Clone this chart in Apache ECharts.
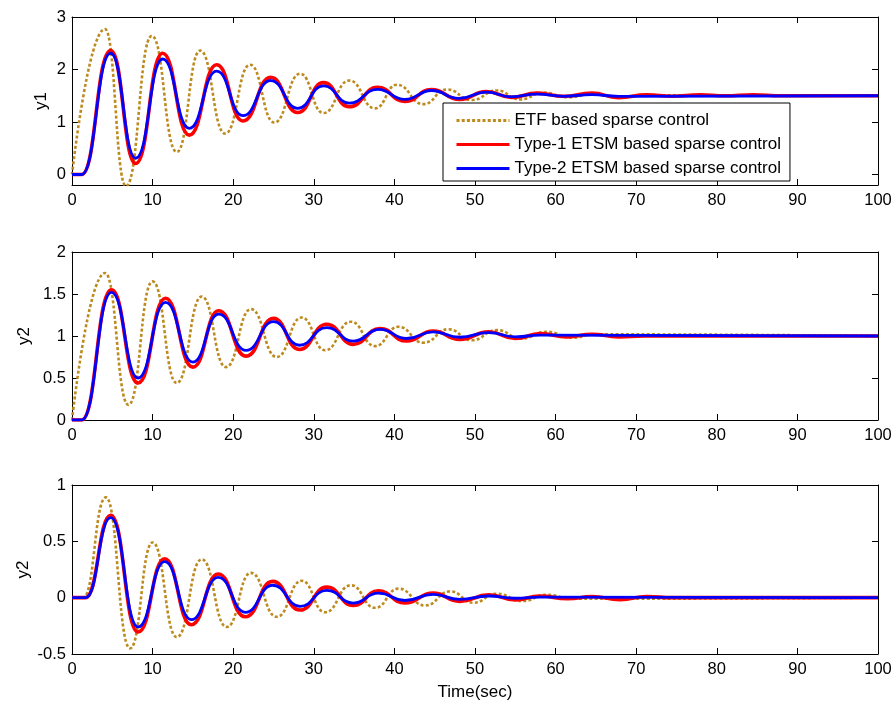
<!DOCTYPE html>
<html>
<head>
<meta charset="utf-8">
<script src="https://cdn.jsdelivr.net/npm/echarts@6/dist/echarts.min.js"></script>
<style>
  html, body { margin: 0; padding: 0; background: #fff; }
  #chart { width: 896px; height: 704px; }
</style>
</head>
<body>
<div id="chart"></div>
<script>
// ---------------- data ----------------
const seriesNames = ['ETF based sparse control', 'Type-1 ETSM based sparse control', 'Type-2 ETSM based sparse control'];
const yAxisNames = ['y1', 'y2', 'y2'];
const xTicks = [0, 10, 20, 30, 40, 50, 60, 70, 80, 90, 100];
const y1Ticks = [0, 1, 2, 3];
const y2Ticks = [0, 0.5, 1, 1.5, 2];
const y3Ticks = [-0.5, 0, 0.5, 1];

// subplot 1 (y1)
const p1EtfT = [0, 4.1, 6.7, 9.9, 13.0, 15.9, 19.0, 22.1, 25.1, 28.3, 31.2, 34.4, 37.6, 40.3, 43.6, 46.5, 49.6, 52.7, 55.6, 58.5, 61.5, 64.6, 67.7, 71.0, 100];
const p1EtfV = [0, 2.77, -0.22, 2.64, 0.43, 2.36, 0.78, 2.09, 0.99, 1.92, 1.17, 1.79, 1.26, 1.71, 1.34, 1.62, 1.42, 1.60, 1.43, 1.56, 1.47, 1.53, 1.48, 1.51, 1.5];
const p1T1T = [0, 1.2, 4.8, 7.9, 11.25, 14.55, 17.95, 21.2, 24.65, 28.0, 31.2, 34.4, 37.9, 41.3, 44.6, 48.1, 51.4, 54.5, 57.7, 61.0, 64.5, 67.8, 71.3, 74.5, 77.9, 81.0, 84.5, 88.0, 100];
const p1T1V = [0, 0, 2.36, 0.21, 2.31, 0.75, 2.09, 1.02, 1.85, 1.18, 1.75, 1.29, 1.66, 1.39, 1.62, 1.43, 1.58, 1.47, 1.55, 1.49, 1.55, 1.465, 1.52, 1.49, 1.52, 1.5, 1.52, 1.5, 1.5];
const p1T2T = [0, 1.2, 4.8, 7.9, 11.25, 14.55, 17.95, 21.2, 24.65, 28.0, 31.2, 34.4, 37.9, 41.3, 44.6, 48.0, 51.4, 54.5, 57.7, 61.0, 64.5, 67.8, 100];
const p1T2V = [0, 0, 2.31, 0.31, 2.20, 0.88, 1.97, 1.12, 1.79, 1.26, 1.69, 1.36, 1.62, 1.43, 1.60, 1.45, 1.57, 1.48, 1.53, 1.49, 1.52, 1.49, 1.5];

// subplot 2 (y2)
const p2EtfT = [0, 4.1, 7.0, 10.0, 13.0, 16.1, 19.1, 22.2, 25.4, 28.5, 31.4, 34.6, 37.6, 40.5, 43.6, 46.7, 49.6, 52.7, 55.8, 58.9, 62.0, 65.0, 100];
const p2EtfV = [0, 1.75, 0.18, 1.65, 0.44, 1.47, 0.63, 1.32, 0.75, 1.22, 0.83, 1.17, 0.88, 1.11, 0.92, 1.08, 0.95, 1.07, 0.97, 1.05, 0.98, 1.02, 1.0];
const p2T1T = [0, 1.2, 4.9, 8.2, 11.6, 15.0, 18.2, 21.6, 25.0, 28.2, 31.6, 34.9, 38.2, 41.5, 44.8, 48.1, 51.7, 55.0, 58.1, 61.4, 64.5, 67.8, 71.0, 100];
const p2T1V = [0, 0, 1.55, 0.44, 1.45, 0.63, 1.30, 0.76, 1.21, 0.84, 1.14, 0.90, 1.09, 0.94, 1.06, 0.96, 1.05, 0.97, 1.03, 0.99, 1.02, 0.99, 1.0, 1.0];
const p2T2T = [0, 1.2, 4.9, 8.2, 11.6, 15.0, 18.2, 21.6, 25.0, 28.2, 31.6, 34.9, 38.2, 41.5, 44.8, 48.1, 51.7, 55.0, 58.1, 100];
const p2T2V = [0, 0, 1.52, 0.50, 1.40, 0.69, 1.26, 0.83, 1.17, 0.89, 1.10, 0.94, 1.08, 0.97, 1.05, 0.985, 1.04, 0.99, 1.01, 1.0];

// subplot 3 (y2, bottom)
const p3EtfT = [0, 1.4, 4.2, 7.2, 10.0, 13.0, 16.1, 19.2, 22.2, 25.4, 28.5, 31.4, 34.6, 37.6, 40.5, 43.8, 46.9, 49.8, 52.7, 55.9, 58.9, 62.0, 100];
const p3EtfV = [0, 0, 0.89, -0.45, 0.49, -0.35, 0.34, -0.26, 0.22, -0.17, 0.15, -0.13, 0.11, -0.09, 0.08, -0.07, 0.056, -0.045, 0.035, -0.03, 0.025, -0.01, 0];
const p3T1T = [0, 1.7, 4.8, 8.2, 11.5, 14.8, 18.15, 21.5, 24.9, 28.3, 31.6, 34.9, 38.0, 41.3, 44.8, 48.1, 51.7, 55.0, 58.0, 61.5, 64.5, 68.0, 71.3, 74.5, 100];
const p3T1V = [0, 0, 0.73, -0.305, 0.345, -0.24, 0.21, -0.17, 0.145, -0.11, 0.094, -0.07, 0.06, -0.048, 0.04, -0.033, 0.025, -0.02, 0.015, -0.01, 0.01, -0.018, 0.01, 0, 0];
const p3T2T = [0, 1.7, 4.8, 8.2, 11.5, 14.8, 18.15, 21.5, 24.9, 28.3, 31.6, 34.9, 38.0, 41.3, 44.8, 48.1, 51.7, 55.0, 58.0, 100];
const p3T2V = [0, 0, 0.71, -0.26, 0.32, -0.195, 0.18, -0.13, 0.11, -0.077, 0.065, -0.048, 0.04, -0.025, 0.03, -0.015, 0.015, -0.005, 0.005, 0];

// ---------------- chart ----------------
const FONT = '"Liberation Sans", Arial, Helvetica, sans-serif';
const colors = ['#bd8a1e', '#ff0000', '#0000ff'];
const widths = [2.6, 3.6, 2.8];
const types = [[3, 2.2], 'solid', 'solid'];

const panels = [
  { top: 17, height: 168, min: -0.2, max: 3, ticks: y1Ticks, nameGap: 22, data: [[p1EtfT, p1EtfV], [p1T1T, p1T1V], [p1T2T, p1T2V]] },
  { top: 252, height: 168, min: 0, max: 2, ticks: y2Ticks, nameGap: 39, data: [[p2EtfT, p2EtfV], [p2T1T, p2T1V], [p2T2T, p2T2V]] },
  { top: 485, height: 169, min: -0.5, max: 1, ticks: y3Ticks, nameGap: 40, data: [[p3EtfT, p3EtfV], [p3T1T, p3T1V], [p3T2T, p3T2V]] }
];

const grid = [], xAxis = [], yAxis = [], series = [];
const lineCol = '#000';
function axisLine() { return { show: true, onZero: false, lineStyle: { color: lineCol, width: 1 } }; }
panels.forEach((p, i) => {
  grid.push({ left: 72, right: 18, top: p.top, height: p.height });
  const isLast = i === panels.length - 1;
  xAxis.push({
    gridIndex: i, type: 'value', min: 0, max: 100, position: 'bottom',
    axisLine: axisLine(),
    axisTick: { show: true, inside: true, length: 6, customValues: xTicks, lineStyle: { color: lineCol } },
    axisLabel: { show: true, customValues: xTicks, color: '#000', fontSize: 16.5, fontFamily: FONT, margin: 7 },
    splitLine: { show: false },
    name: isLast ? 'Time(sec)' : '', nameLocation: 'middle', nameGap: 30, nameMoveOverlap: false,
    nameTextStyle: { color: '#000', fontSize: 17, fontFamily: FONT }
  });
  xAxis.push({
    gridIndex: i, type: 'value', min: 0, max: 100, position: 'top',
    axisLine: axisLine(),
    axisTick: { show: true, inside: true, length: 6, customValues: xTicks, lineStyle: { color: lineCol } },
    axisLabel: { show: false },
    splitLine: { show: false }
  });
  yAxis.push({
    gridIndex: i, type: 'value', min: p.min, max: p.max, position: 'left',
    axisLine: axisLine(),
    axisTick: { show: true, inside: true, length: 6, customValues: p.ticks, lineStyle: { color: lineCol } },
    axisLabel: { show: true, customValues: p.ticks, color: '#000', fontSize: 16.5, fontFamily: FONT, margin: 6 },
    splitLine: { show: false },
    name: yAxisNames[i], nameLocation: 'middle', nameGap: p.nameGap, nameMoveOverlap: false,
    nameTextStyle: { color: '#000', fontSize: 17, fontFamily: FONT }
  });
  yAxis.push({
    gridIndex: i, type: 'value', min: p.min, max: p.max, position: 'right',
    axisLine: axisLine(),
    axisTick: { show: true, inside: true, length: 6, customValues: p.ticks, lineStyle: { color: lineCol } },
    axisLabel: { show: false },
    splitLine: { show: false }
  });
  p.data.forEach((d, k) => {
    series.push({
      name: seriesNames[k], type: 'line',
      xAxisIndex: 2 * i, yAxisIndex: 2 * i,
      data: d[0].map((t, j) => [t, d[1][j]]),
      symbol: 'none', smooth: 0.5, smoothMonotone: 'x',
      clip: true,
      lineStyle: { color: colors[k], width: widths[k], type: types[k], cap: 'butt' },
      itemStyle: { color: colors[k] },
      z: 2 + k,
      silent: true, animation: false
    });
  });
});

const chart = echarts.init(document.getElementById('chart'), null, { renderer: 'canvas' });
chart.setOption({
  backgroundColor: '#ffffff',
  animation: false,
  textStyle: { fontFamily: FONT },
  grid, xAxis, yAxis, series,
  legend: {
    data: seriesNames, orient: 'vertical', left: 443, top: 103,
    itemWidth: 53, itemHeight: 14, itemGap: 7,
    padding: [9, 9, 4, 12],
    backgroundColor: '#fff', borderColor: '#000', borderWidth: 1,
    selectedMode: false,
    itemStyle: { opacity: 0 },
    lineStyle: { width: 3 },
    textStyle: { color: '#000', fontSize: 17, fontFamily: FONT },
    z: 20
  }
});
</script>
</body>
</html>
